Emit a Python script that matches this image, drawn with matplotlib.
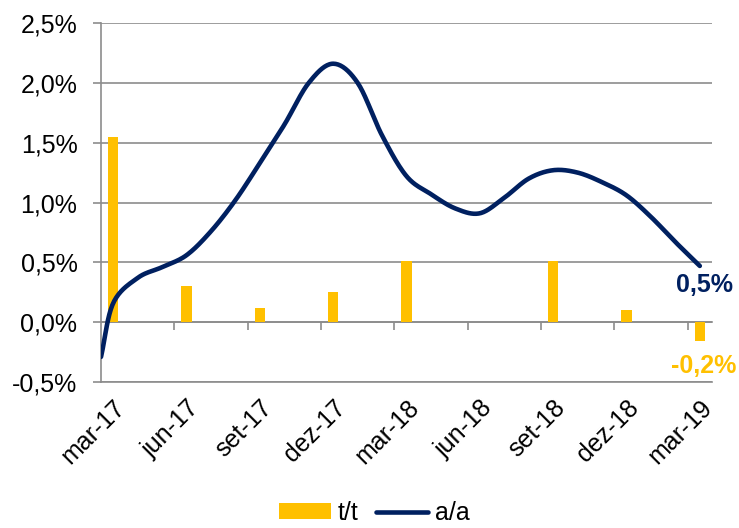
import matplotlib
matplotlib.use("Agg")
import matplotlib.pyplot as plt
import numpy as np

plt.rcParams['font.family'] = ['Liberation Sans', 'DejaVu Sans']

# quarters, month offsets from mar-17
quarters = ['mar-17', 'jun-17', 'set-17', 'dez-17', 'mar-18',
            'jun-18', 'set-18', 'dez-18', 'mar-19']
quarter_month = [0, 3, 6, 9, 12, 15, 18, 21, 24]
tt = [1.55, 0.30, 0.12, 0.25, 0.51, 0.003, 0.51, 0.10, -0.16]

# a/a line, month offsets from mar-17
aa_month = [-0.5, 0, 1, 2, 3, 4, 5, 6, 7, 8, 9, 10, 11, 12,
            13, 14, 15, 16, 17, 18, 19, 20, 21, 22, 23, 24]
aa = [-0.29, 0.16, 0.37, 0.46, 0.56, 0.76, 1.02, 1.33, 1.65, 2.00, 2.16, 2.00, 1.56, 1.22,
      1.07, 0.95, 0.91, 1.04, 1.20, 1.27, 1.25, 1.17, 1.06, 0.88, 0.67, 0.47]

yticks = [-0.5, 0.0, 0.5, 1.0, 1.5, 2.0, 2.5]

GOLD = '#FFC000'
NAVY = '#002060'
GRID = '#8C8C8C'
FS = 18


def smooth(x, y, n=20):
    # catmull-rom through the read points, just for drawing
    x = np.asarray(x, float)
    y = np.asarray(y, float)
    px = np.concatenate([[2 * x[0] - x[1]], x, [2 * x[-1] - x[-2]]])
    py = np.concatenate([[2 * y[0] - y[1]], y, [2 * y[-1] - y[-2]]])
    xs, ys = [], []
    t = np.linspace(0, 1, n, endpoint=False)
    for i in range(1, len(px) - 2):
        for p, out in ((px, xs), (py, ys)):
            p0, p1, p2, p3 = p[i - 1], p[i], p[i + 1], p[i + 2]
            out.extend(0.5 * (2 * p1 + (-p0 + p2) * t + (2 * p0 - 5 * p1 + 4 * p2 - p3) * t ** 2
                              + (-p0 + 3 * p1 - 3 * p2 + p3) * t ** 3))
    xs.append(x[-1])
    ys.append(y[-1])
    return xs, ys


fig = plt.figure(figsize=(7.39, 5.28), dpi=100)
ax = fig.add_axes([0.1367, 0.2765, 0.8268, 0.6799])

ax.set_xlim(-0.5, 24.5)
ax.set_ylim(-0.5, 2.5)
ax.set_yticks(yticks)
ax.set_yticklabels([('%.1f%%' % v).replace('.', ',') for v in yticks], fontsize=FS)
ax.yaxis.grid(True, color=GRID, linewidth=1.2)
ax.set_axisbelow(True)
ax.tick_params(axis='y', length=6, width=1.2, color=GRID, pad=11)

for s in ['top', 'right']:
    ax.spines[s].set_visible(False)
ax.spines['left'].set_color(GRID)
ax.spines['left'].set_linewidth(1.2)
ax.spines['bottom'].set_color(GRID)
ax.spines['bottom'].set_linewidth(1.2)

ax.set_xticks(quarter_month)
ax.set_xticklabels(quarters, fontsize=FS, rotation=45, ha='right', va='top',
                   rotation_mode='anchor')
ax.tick_params(axis='x', length=0, pad=10)

# zero line with tick marks between quarters
sec = ax.secondary_xaxis(1 / 6)
sec.set_xticks([m + 2.5 for m in quarter_month[:-1]])
sec.set_xticklabels([])
sec.tick_params(length=6, width=1.2, color=GRID, direction='out')
sec.spines['bottom'].set_color(GRID)
sec.spines['bottom'].set_linewidth(1.2)

bars = ax.bar(quarter_month, tt, width=0.42, color=GOLD, label='t/t', zorder=2)
lx, ly = smooth(aa_month, aa)
line, = ax.plot(lx, ly, color=NAVY, linewidth=3.3, solid_capstyle='round', label='a/a', zorder=3)

ax.annotate('0,5%', (aa_month[-1], aa[-1]), xytext=(3.6, -13.5), textcoords='offset points',
            ha='center', va='center', fontsize=FS, fontweight='bold', color=NAVY,
            annotation_clip=False)
ax.annotate('-0,2%', (quarter_month[-1], tt[-1]), xytext=(3, -17.5), textcoords='offset points',
            ha='center', va='center', fontsize=FS, fontweight='bold', color=GOLD,
            annotation_clip=False)

fig.legend([bars, line], ['t/t', 'a/a'], loc='center', bbox_to_anchor=(374 / 739, 0.028),
           ncol=2, frameon=False, fontsize=FS, handlelength=2.1, handletextpad=0.25,
           columnspacing=0.7, handleheight=0.6, borderpad=0.1)

fig.savefig('out.png', dpi=100)
